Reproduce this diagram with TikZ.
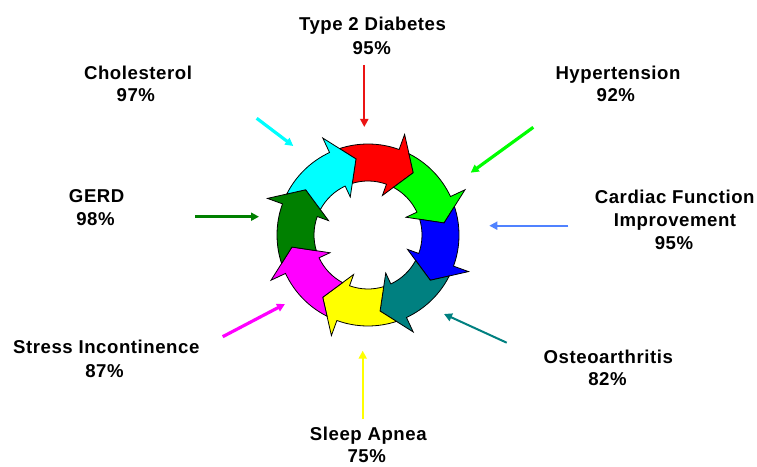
\documentclass[tikz,border=0pt]{standalone}
\usepackage{fontspec}
\setmainfont{Liberation Sans}[LetterSpace=3.0]
\usetikzlibrary{arrows.meta}
\definecolor{cRed}{RGB}{255,0,0}
\definecolor{cGreen}{RGB}{0,255,0}
\definecolor{cBlue}{RGB}{0,0,255}
\definecolor{cTeal}{RGB}{0,128,128}
\definecolor{cYellow}{RGB}{255,255,0}
\definecolor{cMagenta}{RGB}{255,0,255}
\definecolor{cDkGreen}{RGB}{0,128,0}
\definecolor{cCyan}{RGB}{0,255,255}
\definecolor{cLtBlue}{RGB}{80,130,255}
\definecolor{cArrRed}{RGB}{235,20,20}
\begin{document}
\begin{tikzpicture}[x=1pt,y=1pt,
  lbl/.style={font=\bfseries\fontsize{18.6}{22.7}\selectfont, inner sep=0pt, anchor=base},
  ringarrow/.style={draw=black, line width=0.8pt, line join=miter},
  pointer/.style={-{Triangle[length=8pt,width=8pt]}},
]
\useasboundingbox (0,0) rectangle (757,466);
\fill[white] (0,0) rectangle (757,466);

% ring of curved arrows
\coordinate (C) at (368,231);
\begin{scope}[shift={(C)}]
\foreach \k/\col in {0/cRed,1/cGreen,2/cBlue,3/cTeal,4/cYellow,5/cMagenta,6/cDkGreen,7/cCyan}{
  \pgfmathsetmacro\b{70-45*\k}
  \pgfmathsetmacro\ao{\b+38.25}
  \pgfmathsetmacro\ai{\b+36.91}
  \pgfmathsetmacro\an{\b+29}
  \pgfmathsetmacro\at{\b-16}
  \filldraw[ringarrow, fill=\col]
    (\ao:91pt) arc[start angle=\ao, end angle=\b, radius=91pt]
    -- (\b:107pt) -- (\at:77pt) -- (\b:42pt) -- (\b:54pt)
    arc[start angle=\b, end angle=\ai, radius=54pt]
    -- (\an:77pt) -- cycle;
}
\end{scope}

% labels
\node[lbl] (t2d)  at (372.5,435) {Type 2 Diabetes};
\node[lbl] (t2dp) at (371.7,411) {95\%};
\node[lbl] (chol)  at (138,386) {Cholesterol};
\node[lbl] (cholp) at (135.8,364.3) {97\%};
\node[lbl] (hyp)  at (618,386) {Hypertension};
\node[lbl] (hypp) at (615.8,364.3) {92\%};
\node[lbl] (gerd)  at (96.7,263.3) {GERD};
\node[lbl] (gerdp) at (95.5,240) {98\%};
\node[lbl] (card)  at (674.7,262.7) {Cardiac Function};
\node[lbl] (cardi) at (675,239.3) {Improvement};
\node[lbl] (cardp) at (674,216) {95\%};
\node[lbl] (sti)  at (106.3,112.7) {Stress Incontinence};
\node[lbl] (stip) at (104.5,88.7) {87\%};
\node[lbl] (ost)  at (608.3,102.7) {Osteoarthritis};
\node[lbl] (ostp) at (607.5,81) {82\%};
\node[lbl] (slp)  at (368.3,25.5) {Sleep Apnea};
\node[lbl] (slpp) at (366.7,4) {75\%};

% pointer end points
\coordinate (rS) at (364.3,401);  \coordinate (rE) at (364.3,339);
\coordinate (cS) at (256.7,347.7); \coordinate (cE) at (293.3,320);
\coordinate (gS) at (195,249.3);  \coordinate (gE) at (259,249.3);
\coordinate (hS) at (533.3,338.7); \coordinate (hE) at (470.7,293.3);
\coordinate (bS) at (568.3,240.3); \coordinate (bE) at (489.3,240.3);
\coordinate (mS) at (222.7,129.3); \coordinate (mE) at (285,162);
\coordinate (yS) at (362.7,47);    \coordinate (yE) at (362.7,115.3);
\coordinate (tS) at (506.7,123.3); \coordinate (tE) at (444,152);

\draw[pointer, cArrRed, line width=2pt] (rS) -- (rE);
\draw[pointer, cCyan, line width=3.2pt] (cS) -- (cE);
\draw[pointer, cDkGreen, line width=3.2pt] (gS) -- (gE);
\draw[pointer, cGreen, line width=3.2pt] (hS) -- (hE);
\draw[pointer, cLtBlue, line width=1.8pt] (bS) -- (bE);
\draw[pointer, cMagenta, line width=3.2pt] (mS) -- (mE);
\draw[pointer, cYellow, line width=2pt] (yS) -- (yE);
\draw[pointer, cTeal, line width=2pt] (tS) -- (tE);
\end{tikzpicture}
\end{document}
